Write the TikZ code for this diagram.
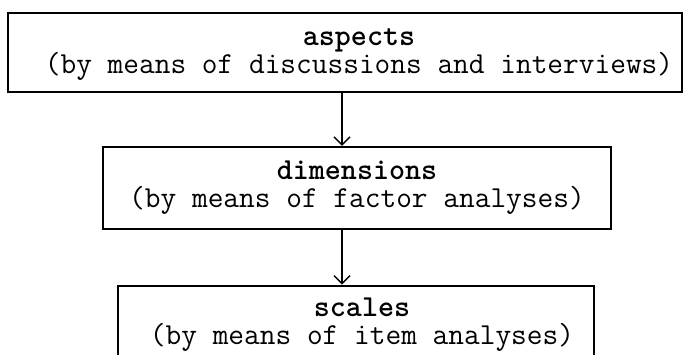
\documentclass[tikz,border=0pt]{standalone}
\usepackage{fontspec}
\usetikzlibrary{positioning,arrows.meta}

\tikzset{
  stage box/.style={draw, line width=1.8pt, minimum width=#1, minimum height=82pt, inner sep=0pt},
  stage text/.style={font=\ttfamily\fontsize{30.5}{28}\selectfont, align=center, inner sep=0pt},
  flow/.style={-{Straight Barb[length=8pt,width=16pt,line width=1.5pt]}, line width=1.5pt}
}

\begin{document}
\begin{tikzpicture}[x=1pt, y=1pt]
\useasboundingbox (0,0) rectangle (685,-354);
\clip (0,0) rectangle (685,-354);

% the three stages
\node[stage box=674pt, minimum height=79pt] (aspectsbox) at (345,-52.5) {};
\node[stage box=508pt, below=53pt of aspectsbox, xshift=12pt] (dimbox) {};
\node[stage box=476pt, below=55pt of dimbox, xshift=-1pt] (scalebox) {};

\node[stage text] (aspectstext) at ([xshift=14pt, yshift=-2pt]aspectsbox.center)
  {\textbf{aspects}\\(by means of discussions and interviews)};
\node[stage text] (dimtext) at (dimbox.center)
  {\textbf{dimensions}\\(by means of factor analyses)};
\node[stage text] (scaletext) at ([xshift=6pt, yshift=2pt]scalebox.center)
  {\textbf{scales}\\(by means of item analyses)};

% arrows
\draw[flow] ([xshift=-3pt]aspectsbox.south) -- ([xshift=-3pt]aspectsbox.south |- dimbox.north);
\draw[flow] ([xshift=-3pt]aspectsbox.south |- dimbox.south) -- ([xshift=-3pt]aspectsbox.south |- scalebox.north);
\end{tikzpicture}
\end{document}
